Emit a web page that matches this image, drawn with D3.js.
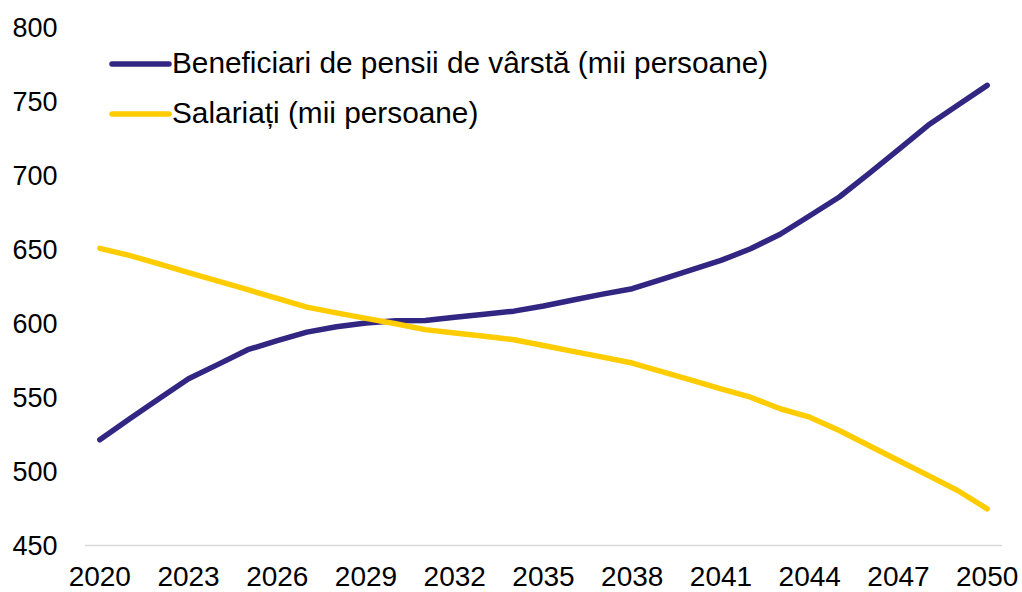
<!DOCTYPE html>
<html>
<head>
<meta charset="utf-8">
<script src="https://cdn.jsdelivr.net/npm/d3@7"></script>
<style>
  html, body { margin: 0; padding: 0; background: #fff; }
  svg { display: block; font-family: "Liberation Sans", Arial, sans-serif; }
</style>
</head>
<body>
<svg id="chart" width="1022" height="592"></svg>
<script>
const years = d3.range(2020, 2051);
const pensioners = [521.5, 535.5, 549.3, 562.8, 572.5, 582.4, 588.5, 594.3, 598, 600.5,
  602, 602.2, 604.3, 606.4, 608.5, 612, 616, 620, 623.7, 630,
  636.4, 642.8, 650.7, 660.5, 673, 685.7, 701.5, 717.8, 734.2, 747.7, 761.2];
const employees = [651, 646.2, 640.4, 634.6, 628.8, 623, 617.1, 611.2, 607.3, 603.6,
  600, 596, 593.7, 591.5, 589.2, 585.3, 581.3, 577.4, 573.4, 567.6,
  561.8, 556, 550.3, 542.5, 536.8, 527.8, 517.6, 507.5, 497.4, 487.2, 474.8];
const seriesNames = ["Beneficiari de pensii de vârstă (mii persoane)", "Salariați (mii persoane)"];
const seriesColors = ["#312783", "#ffcc00"];
const yTicks = [450, 500, 550, 600, 650, 700, 750, 800];
const xTickYears = [2020, 2023, 2026, 2029, 2032, 2035, 2038, 2041, 2044, 2047, 2050];

const svg = d3.select("#chart");
const x = d3.scalePoint().domain(years).range([85, 1002]).padding(0.5);
const y = d3.scaleLinear().domain([450, 800]).range([545.5, 28]);

// y labels
svg.append("g").selectAll("text").data(yTicks).join("text")
  .attr("x", 57.5).attr("y", d => y(d)).attr("dy", "0.35em")
  .attr("text-anchor", "end").attr("font-size", 27).attr("fill", "#000")
  .text(d => d);

// x axis line
svg.append("line").attr("x1", 85).attr("x2", 1002)
  .attr("y1", y(450)).attr("y2", y(450))
  .attr("stroke", "#d9d9d9").attr("stroke-width", 1.5);

// x labels
svg.append("g").selectAll("text").data(xTickYears).join("text")
  .attr("x", d => x(d)).attr("y", 585.5)
  .attr("text-anchor", "middle").attr("font-size", 28).attr("fill", "#000")
  .text(d => d);

const line = d3.line().x((d, i) => x(years[i])).y(d => y(d));
[pensioners, employees].forEach((s, k) => {
  svg.append("path").datum(s).attr("d", line)
    .attr("fill", "none").attr("stroke", seriesColors[k])
    .attr("stroke-width", 5.5).attr("stroke-linecap", "round").attr("stroke-linejoin", "round");
});

// legend
const leg = svg.append("g");
seriesNames.forEach((n, k) => {
  const ly = 64 + k * 50;
  leg.append("line").attr("x1", 112).attr("x2", 169).attr("y1", ly).attr("y2", ly)
    .attr("stroke", seriesColors[k]).attr("stroke-width", 5.5).attr("stroke-linecap", "round");
  leg.append("text").attr("x", 172).attr("y", ly - 1.5).attr("dy", "0.35em")
    .attr("font-size", 29.8).attr("fill", "#000").text(n);
});
</script>
</body>
</html>
